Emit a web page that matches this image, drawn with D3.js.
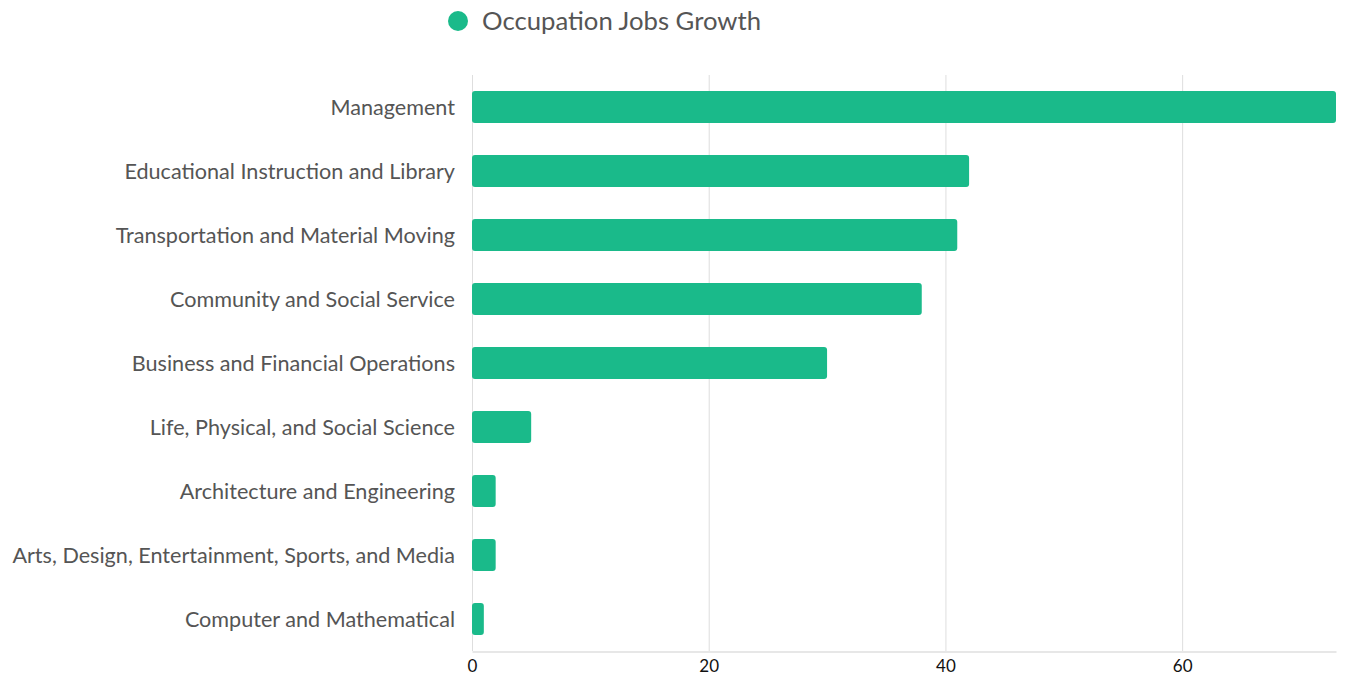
<!DOCTYPE html>
<html>
<head>
<meta charset="utf-8">
<script src="https://cdn.jsdelivr.net/npm/d3@7"></script>
<style>
  html, body { margin: 0; padding: 0; background: #fff; }
  svg { display: block; font-family: Lato, "Open Sans", sans-serif; }
</style>
</head>
<body>
<svg id="chart" width="1349" height="677"></svg>
<script>
// Occupation job growth by category
const categories = [
  "Management",
  "Educational Instruction and Library",
  "Transportation and Material Moving",
  "Community and Social Service",
  "Business and Financial Operations",
  "Life, Physical, and Social Science",
  "Architecture and Engineering",
  "Arts, Design, Entertainment, Sports, and Media",
  "Computer and Mathematical"
];
const values = [73, 42, 41, 38, 30, 5, 2, 2, 1];
const xTicks = [0, 20, 40, 60];
const seriesName = "Occupation Jobs Growth";

const color = "#1aba8a";
const svg = d3.select("#chart");
const margin = { top: 75, right: 13, bottom: 26, left: 472 };
const width = 1349, height = 677;

const x = d3.scaleLinear()
  .domain([0, d3.max(values)])
  .range([margin.left, width - margin.right]);

const y = d3.scaleBand()
  .domain(categories)
  .range([margin.top, height - margin.bottom])
  .paddingInner(0.5)
  .paddingOuter(0.25);

// vertical grid lines
svg.append("g")
  .selectAll("line")
  .data(xTicks)
  .join("line")
  .attr("x1", d => x(d) + 0.5)
  .attr("x2", d => x(d) + 0.5)
  .attr("y1", margin.top)
  .attr("y2", height - margin.bottom)
  .attr("stroke", "#dedede")
  .attr("stroke-width", 1);

// bottom axis
const xAxis = svg.append("g")
  .attr("transform", `translate(0,${height - margin.bottom + 0.5})`)
  .call(d3.axisBottom(x).tickValues(xTicks).tickSize(0).tickPadding(8));
xAxis.select(".domain").attr("stroke", "#cfcfcf");
xAxis.selectAll("text")
  .attr("font-size", 17)
  .attr("fill", "#111")
  .attr("font-family", "Lato, sans-serif");

// bars
svg.append("g")
  .selectAll("rect")
  .data(categories)
  .join("rect")
  .attr("x", x(0))
  .attr("y", d => y(d))
  .attr("width", (d, i) => x(values[i]) - x(0))
  .attr("height", y.bandwidth())
  .attr("rx", 3)
  .attr("ry", 3)
  .attr("fill", color);

// category labels
svg.append("g")
  .selectAll("text")
  .data(categories)
  .join("text")
  .attr("x", margin.left - 17)
  .attr("y", d => y(d) + y.bandwidth() / 2)
  .attr("dy", "0.35em")
  .attr("text-anchor", "end")
  .attr("font-size", 21.6)
  .attr("fill", "#555")
  .text(d => d);

// legend
const legend = svg.append("g").attr("transform", "translate(458,21)");
legend.append("circle").attr("r", 10).attr("fill", color);
legend.append("text")
  .attr("x", 24)
  .attr("dy", "0.35em")
  .attr("font-size", 25.7)
  .attr("fill", "#555")
  .text(seriesName);
</script>
</body>
</html>
